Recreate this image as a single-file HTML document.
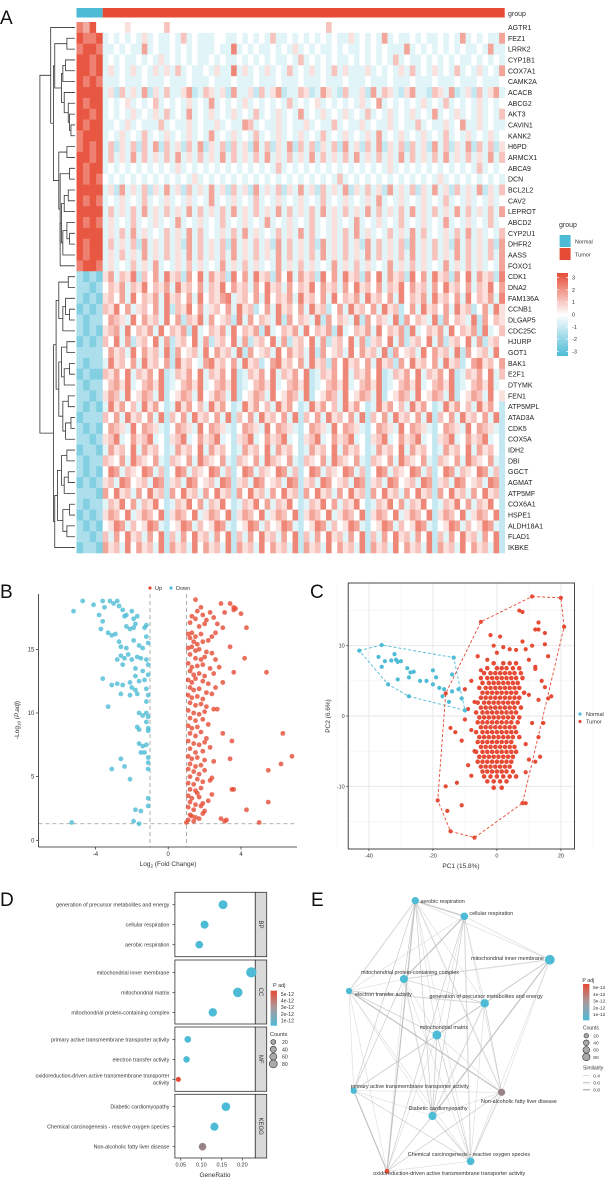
<!DOCTYPE html>
<html><head><meta charset="utf-8"><style>
html,body{margin:0;padding:0;background:#fff;}
svg{display:block;font-family:"Liberation Sans",Arial,sans-serif;}
</style></head><body>
<svg id="fig" width="613" height="1181" viewBox="0 0 613 1181" xmlns="http://www.w3.org/2000/svg">
<rect x="0" y="0" width="613" height="1181" fill="#fff"/>
<defs>
<linearGradient id="hmGrad" x1="0" y1="0" x2="0" y2="1"><stop offset="0" stop-color="#E64B35"/><stop offset="0.5" stop-color="#ffffff"/><stop offset="1" stop-color="#4DBBD5"/></linearGradient>
<linearGradient id="padjGrad" x1="0" y1="0" x2="0" y2="1"><stop offset="0" stop-color="#E64B35"/><stop offset="0.5" stop-color="#a99a9e"/><stop offset="1" stop-color="#4DBBD5"/></linearGradient>
<clipPath id="pcaClip"><rect x="348.2" y="583" width="226.3" height="266"/></clipPath>
</defs>
<g id="root"></g>
</svg>
<script>
// ---------- DATA ----------
const genes = ["AGTR1","FEZ1","LRRK2","CYP1B1","COX7A1","CAMK2A","ACACB","ABCG2","AKT3","CAVIN1","KANK2","H6PD","ARMCX1","ABCA9","DCN","BCL2L2","CAV2","LEPROT","ABCD2","CYP2U1","DHFR2","AASS","FOXO1","CDK1","DNA2","FAM136A","CCNB1","DLGAP5","CDC25C","HJURP","GOT1","BAK1","E2F1","DTYMK","FEN1","ATP5MPL","ATAD3A","CDK5","COX5A","IDH2","DBI","GGCT","AGMAT","ATP5MF","COX6A1","HSPE1","ALDH18A1","FLAD1","IKBKE"];
// heatmap values encoded: digit d -> z ; "normal|tumor"
const heatRows = [
"7684|444454444446444444444444444444444444444464444444444444444444444444444444",
"8778|343434353433436343334433434343633434343434335343437343343433434373434337",
"7887|334343373433434343334338343433434353434334343343434333734343434343343733",
"8878|343433434353434343343433434343433436343434334343434363433434343433434343",
"8878|353435343535363433435338353435343634353436353335343435363435343634353437",
"8787|333433343334333433343334333433343334333433343334333433343334333433343334",
"8888|352635372536335723653527335263572336523753263352736532573326537235263573",
"8788|343453434634343534373434353434343634345343434353473434343534363434353434",
"8878|343435343536343734353435343634353437343534353436343534353437343534353436",
"8788|334353433363433534335343376343353433534336343353433534336343353473353433",
"7888|343534363435343534373435343634353435343634353435373435343534363435343534",
"7878|362536263726352637253626352736253726362536273526372536263527362537263625",
"8878|363537363536373536353736353637353635373635363735363537363536373536353736",
"8788|343434343434353434343434343434363434343434343434343534343434343434363434",
"8787|434343434343434353434343434343434343434343634343434343434343534343434343",
"8888|352735362537352635373526352735362537352635372536352735362537352635372536",
"8787|343534363435343534373435343634353435343634353435373435343534363435343534",
"8888|363536373536353736353637353635373635363735363537363536373536353736353637",
"8787|353436343534373435343634353437343534363435343734353436343534373435343634",
"8888|353637353436353736343536373534363537363435363735343635373634353637353436",
"8788|363536273536352736353627353635273635362735363527363536273536352736353627",
"8788|353635373536353736353637353635373635363735363537363536373536353736353637",
"7887|353436353734353635343735363534373536353437353635343735363534373536353437",
"2121|573658264738562748375628473856274837562847385627483756284738562748375628",
"2212|465736584657385647365847563748563746584756374856473658475637485647365847",
"2121|564738465738564738465783564738465738564738465738564738465738564738465738",
"1212|658473564738265847356473856247385647385624738564738562473856473856247385",
"2122|476538475638472658374562837465382746538274653827465382746538274653827465",
"2121|567384657384657283465738465728346573846572834657384657283465738465728346",
"1212|648372564837256483725648372564837256483725648372564837256483725648372564",
"2222|475638475638274563847563827456384756382745638475638274563847563827456384",
"2122|385647385647285643785647385624785647385627485647385627485647385624785647",
"1211|657483657482365748365748236574836574823657483657482365748365748236574836",
"2122|467583467582346758346758234675834675823467583467582346758346758234675834",
"2212|576384576382457638457638245763845763824576384576382457638457638245763845",
"2121|385746385742385746385742385746385742385746385742385746385742385746385742",
"1222|647385647382647385647382647385647382647385647382647385647382647385647382",
"2121|476538476532476538476532476538476532476538476532476538476532476538476532",
"2212|568347568342568347568342568347568342568347568342568347568342568347568342",
"1221|375648375642375648375642375648375642375648375642375648375642375648375642",
"2122|654738654732654738654732654738654732654738654732654738654732654738654732",
"2121|487365487362487365487362487365487362487365487362487365487362487365487362",
"1212|563874563872563874563872563874563872563874563872563874563872563874563872",
"2221|748563748562748563748562748563748562748563748562748563748562748563748562",
"2122|365847365842365847365842365847365842365847365842365847365842365847365842",
"1212|576483576482576483576482576483576482576483576482576483576482576483576482",
"2121|458736458732458736458732458736458732458736458732458736458732458736458732",
"2212|637485637482637485637482637485637482637485637482637485637482637485637482",
"1221|756384756382756384756382756384756382756384756382756384756382756384756382"
];
// merge heights between adjacent leaves (dendrogram)
const mergeHeights = [18,6,15,7,9,10,8,5,4,3,16,6,12,4,11,5,8,10,6,4,9,11,26,5,12,7,4,9,14,6,10,4,8,12,5,9,3,7,16,6,10,5,8,13,4,9,6,15];

// Volcano: [log2FC, -log10(padj)]
const volcanoDown = [[-5.2,18.0],[-4.7,18.8],[-4.1,18.5],[-3.8,17.7],[-3.6,18.8],[-3.5,18.3],[-3.2,18.8],[-3.0,18.6],[-2.8,18.8],[-2.7,18.4],[-2.5,18.1],[-2.4,17.6],[-2.3,17.7],[-2.0,18.0],[-1.9,17.4],[-1.7,17.6],[-1.8,17.0],[-1.2,16.9],[-1.3,16.7],[-3.6,17.2],[-3.7,16.6],[-3.3,16.3],[-3.1,16.1],[-2.9,16.2],[-2.3,16.8],[-2.1,16.6],[-1.9,16.7],[-2.7,15.6],[-2.6,15.2],[-2.3,15.1],[-1.9,15.7],[-1.6,15.3],[-1.4,15.1],[-1.2,16.0],[-1.1,15.5],[-2.8,14.2],[-2.6,14.5],[-2.4,14.3],[-2.2,14.6],[-2.0,14.2],[-1.7,14.4],[-1.5,14.3],[-1.2,14.2],[-1.1,13.8],[-2.5,13.8],[-1.8,13.5],[-1.4,13.3],[-1.8,12.9],[-1.6,12.5],[-1.3,12.6],[-1.1,13.0],[-3.6,12.7],[-3.1,12.2],[-2.8,12.3],[-2.5,12.2],[-2.1,12.4],[-2.0,12.0],[-1.8,11.8],[-1.2,11.9],[-1.1,11.4],[-2.6,11.5],[-2.1,11.4],[-1.7,11.5],[-1.2,10.9],[-3.3,10.5],[-1.6,10.0],[-1.4,9.8],[-1.2,10.0],[-1.1,9.7],[-1.2,9.3],[-1.1,8.8],[-1.7,8.9],[-1.6,8.7],[-1.1,8.6],[-1.6,7.6],[-1.4,7.4],[-1.2,7.5],[-1.5,6.9],[-1.3,6.9],[-1.1,6.5],[-1.1,6.1],[-2.6,6.4],[-2.4,5.8],[-3.1,5.6],[-1.1,5.6],[-2.1,4.8],[-1.1,3.3],[-1.8,2.4],[-1.5,2.3],[-1.1,2.7],[-5.3,1.4],[-1.9,1.5],[-1.6,1.3]];
const volcanoUp = [[1.5,18.9],[1.8,18.3],[1.6,18.0],[2.3,17.9],[2.5,17.5],[2.9,18.6],[3.1,17.9],[3.4,18.6],[3.6,18.3],[3.6,18.1],[3.7,18.2],[4.0,17.8],[1.3,17.6],[1.5,17.4],[1.9,17.7],[2.1,17.3],[1.2,17.1],[1.7,16.8],[2.0,17.0],[2.7,17.0],[3.0,16.7],[4.3,16.7],[1.1,16.2],[1.3,16.3],[1.5,16.0],[1.8,16.2],[2.4,16.0],[2.6,16.3],[1.2,15.9],[1.4,15.6],[1.6,15.4],[1.9,15.6],[2.2,15.7],[1.1,15.1],[1.3,15.2],[1.5,14.9],[1.7,15.0],[2.1,14.8],[2.4,14.7],[3.4,15.2],[1.2,14.6],[1.5,14.3],[1.8,14.2],[2.0,14.4],[2.6,14.2],[4.2,14.3],[1.1,13.9],[1.3,13.6],[1.6,13.7],[1.9,13.8],[2.3,13.5],[2.8,13.6],[1.2,13.3],[1.4,13.0],[1.7,13.1],[2.0,12.9],[2.5,13.1],[3.6,13.2],[5.4,13.2],[1.1,12.6],[1.3,12.4],[1.5,12.7],[1.9,12.5],[2.2,12.3],[1.2,12.0],[1.4,11.8],[1.7,11.9],[2.1,11.6],[2.6,12.0],[3.0,12.4],[1.1,11.4],[1.3,11.2],[1.6,11.3],[1.9,11.1],[2.4,11.5],[1.2,10.8],[1.5,10.6],[1.8,10.7],[2.1,10.5],[1.1,10.2],[1.4,10.0],[1.7,9.9],[2.0,10.1],[2.5,10.3],[2.7,10.3],[1.2,9.6],[1.5,9.4],[1.9,9.5],[1.1,9.0],[1.3,8.8],[1.6,8.9],[2.2,9.1],[1.2,8.4],[1.5,8.2],[1.8,8.5],[2.1,8.0],[3.0,8.4],[6.3,8.4],[1.1,7.8],[1.4,7.6],[1.7,7.5],[2.0,7.7],[3.5,7.8],[1.2,7.2],[1.5,6.9],[1.9,7.0],[2.3,7.3],[1.1,6.6],[1.3,6.4],[1.6,6.5],[2.0,6.3],[2.5,6.2],[3.4,6.4],[6.8,6.6],[1.2,6.0],[1.5,5.8],[1.8,5.9],[1.1,5.6],[1.4,5.4],[1.7,5.2],[2.0,5.5],[5.5,5.5],[6.2,6.0],[1.2,5.0],[1.6,4.8],[2.4,4.9],[1.1,4.5],[1.4,4.4],[1.9,4.6],[2.3,4.7],[1.2,4.0],[1.5,3.9],[1.8,4.1],[3.6,4.0],[3.5,4.0],[1.1,3.5],[1.3,3.3],[1.7,3.4],[2.4,3.6],[1.2,3.0],[1.5,2.8],[1.9,2.9],[2.2,3.1],[5.5,3.0],[1.1,2.6],[1.4,2.4],[1.8,2.7],[2.0,2.3],[4.3,2.4],[1.2,2.0],[1.5,1.8],[1.9,2.1],[1.1,1.6],[1.4,1.5],[1.7,1.7],[2.9,1.7],[3.2,1.6],[3.1,1.5],[1.0,1.4],[5.0,1.4],[1.3,1.9],[1.6,3.7]];
const volcanoXTicks = [-4,0,4];
const volcanoYTicks = [0,5,10,15];

// PCA
const pcaNormal = [[-43,9.3],[-36,10.1],[-37,8.4],[-35,7.8],[-33,7.9],[-32,8.8],[-31,7.7],[-30,7.8],[-31.5,8],[-36,7],[-34,4.5],[-31,5.2],[-28,6.8],[-27,6.2],[-26,6.3],[-27.5,5.5],[-24,5],[-22,5],[-20,6.5],[-19,5.5],[-18,4],[-16.5,3.8],[-17,2.8],[-13.5,8.3],[-14,5.9],[-14,3.5],[-12,3.8],[-11,2.5],[-10,0.8],[-27.5,2.8],[-20,4.5],[-15,2]];
const pcaTumorCoreY = [7.5,6.8,6.1,5.4,4.7,4.0,3.3,2.6,1.9,1.2,0.5,-0.2,-0.9,-1.6,-2.3,-3.0,-3.7,-4.4,-5.1,-5.8,-6.5,-7.2,-7.9,-8.6,-9.3,-10.2];
const pcaTumorCoreX = [[-1,2,4,6],[-3,0,1.5,3,5,7],[-4,-2,-0.5,1,2.5,4,5.5,7.5],[-5,-3,-1.5,0,1.5,3,4.5,6,8],[-4.5,-2.5,-1,0.5,2,3.5,5,6.5],[-5.5,-3.5,-2,-0.5,1,2.5,4,5.5,7],[-4.5,-3,-1.5,0,1.5,3,4.5,6,8.5],[-5,-3.5,-2,-0.5,1,2.5,4,5.5,7],[-6,-4,-2.5,-1,0.5,2,3.5,5,6.5],[-5,-3.5,-2,-0.5,1,2.5,4,5.5,7.5],[-6.5,-4.5,-3,-1.5,0,1.5,3,4.5,6],[-5.5,-4,-2.5,-1,0.5,2,3.5,5,7],[-6,-4.5,-3,-1.5,0,1.5,3,4.5,6.5],[-5,-3.5,-2,-0.5,1,2.5,4,5.5],[-6.5,-4.5,-3,-1.5,0,1.5,3,4.5,6],[-5.5,-4,-2.5,-1,0.5,2,3.5,5,7],[-6,-4.5,-3,-1.5,0,1.5,3,4.5],[-5,-3.5,-2,-0.5,1,2.5,4,5.5],[-6.5,-4.5,-3,-1.5,0,1.5,3,4.5,6],[-5.5,-4,-2.5,-1,0.5,2,3.5,5],[-6,-4.5,-3,-1.5,0,1.5,3,4.5],[-5,-3.5,-2,-0.5,1,2.5,4],[-4.5,-3,-1.5,0,1.5,3,5],[-4,-2,0,2,4,6],[-3,-1,1,3],[-1,1.5]];
const pcaTumorExtra = [[-16,3.2],[-14.5,-1.7],[-13,-2.3],[-11,-3.5],[-10,3.8],[-10,-0.5],[-12.5,-9.5],[-15.5,-13.5],[-16,-10],[-18.5,-12],[-14.5,-16.4],[-7,-17.3],[-11,-12.7],[-5,13.4],[-3,8],[-5,6.5],[-8,-8.5],[-9,-7],[11,17],[20,16.8],[21,12.7],[8,-12.4],[9,-12.4],[7,15],[8,14.8],[12,12.3],[13,12.3],[13,13.3],[15,11.8],[16,8.5],[17,2.8],[16,2.5],[12,6.7],[14,5],[15,4.1],[13,2.3],[11,-1],[13,-3],[12,-6.5],[13.5,-5.8],[10,-6.2],[14.5,-1],[9,9.5],[10,8],[8,10.6],[11,10],[15,10.2],[12,7],[10,3],[9,-4],[9,-8],[-8,5],[-7,2],[-9,1],[-8,-2],[-7,-5],[-2,11.5],[1,11.3],[2,9.8],[4,9.5],[6,9.4],[0,9],[-1,10],[-6,8.5]];
const pcaNormalHull = [[-43,9.3],[-36,10.1],[-13.5,8.3],[-10,0.8],[-27.5,2.8],[-34,4.5]];
const pcaTumorHull = [[11,17],[20,16.8],[21,12.7],[8,-12.4],[-7,-17.3],[-14.5,-16.4],[-18.5,-12],[-16,3.2],[-5,13.4]];
const pcaXTicks = [-40,-20,0,20];
const pcaYTicks = [-10,0,10];

// Enrichment (D/E)
const termNames = ["generation of precursor metabolites and energy","cellular respiration","aerobic respiration","mitochondrial inner membrane","mitochondrial matrix","mitochondrial protein-containing complex","primary active transmembrane transporter activity","electron transfer activity","oxidoreduction-driven active transmembrane transporter activity","Diabetic cardiomyopathy","Chemical carcinogenesis - reactive oxygen species","Non-alcoholic fatty liver disease"];
const termCategory = ["BP","BP","BP","CC","CC","CC","MF","MF","MF","KEGG","KEGG","KEGG"];
const geneRatio = [0.153,0.108,0.095,0.222,0.189,0.128,0.067,0.064,0.044,0.160,0.132,0.103];
const termCounts = [60,45,40,88,72,52,26,25,10,55,46,38];
const termPadj = [1e-13,1e-13,1e-13,1e-13,1e-13,1e-13,1e-13,1e-13,5.5e-12,1e-13,1e-13,3.2e-12];
const ratioTicks = [0.05,0.10,0.15,0.20];
const padjTicks = ["5e-12","4e-12","3e-12","2e-12","1e-12"];
const countTicks = [20,40,60,80];
// network
const netEdges = [[2,1],[2,0],[2,3],[2,5],[2,7],[2,4],[2,9],[2,10],[2,11],[2,6],[1,0],[1,3],[1,5],[1,4],[1,7],[1,9],[1,10],[1,11],[1,8],[3,0],[3,5],[3,4],[3,10],[3,11],[3,9],[5,7],[5,4],[5,0],[5,9],[5,10],[5,6],[5,8],[7,0],[7,4],[7,6],[7,8],[7,11],[7,9],[7,10],[0,4],[0,9],[0,10],[0,11],[0,6],[4,9],[4,10],[4,11],[4,8],[6,8],[6,11],[6,9],[6,10],[9,10],[9,11],[9,8],[10,8],[10,11],[11,8],[6,4],[3,6],[2,8]];
const similarityTicks = [0.4,0.6,0.8];

// ---------- HELPERS ----------
const NS = "http://www.w3.org/2000/svg";
const root = document.getElementById("root");
function mk(tag, attrs, parent) {
  const e = document.createElementNS(NS, tag);
  for (const k in attrs) e.setAttribute(k, attrs[k]);
  (parent || root).appendChild(e);
  return e;
}
function txt(str, x, y, size, anchor, parent, extra) {
  const t = mk("text", Object.assign({x: x, y: y, "font-size": size, "text-anchor": anchor || "start", fill: "#333"}, extra || {}), parent);
  t.textContent = str;
  return t;
}
function group(name) {
  const g = mk("g", {});
  
  
  return g;
}
function mixColor(a, b, t) {
  const pa = [parseInt(a.slice(1,3),16),parseInt(a.slice(3,5),16),parseInt(a.slice(5,7),16)];
  const pb = [parseInt(b.slice(1,3),16),parseInt(b.slice(3,5),16),parseInt(b.slice(5,7),16)];
  return "rgb(" + pa.map((v,i)=>Math.round(v+(pb[i]-v)*t)).join(",") + ")";
}
function zColor(z) {
  const t = Math.max(-1, Math.min(1, z/3));
  return t >= 0 ? mixColor("#ffffff", "#E64B35", t) : mixColor("#ffffff", "#4DBBD5", -t);
}

// ---------- PANEL LETTERS ----------
const letters = [["A",0,24],["B",0,598],["C",310,598],["D",0,906],["E",311,906]];
letters.forEach(l => {
  const t = txt(l[0], l[1], l[2], 19, "start", root, {fill: "#111"});
  
  
});

// ---------- A: HEATMAP ----------
const gA = group("heatmap-panel");
const hmX0 = 76.5, hmXN = 102.7, hmX1 = 504.7, hmY0 = 22, hmY1 = 553;
const rowH = (hmY1 - hmY0) / genes.length;
const gb1 = mk("rect", {x: hmX0, y: 8, width: hmXN-hmX0, height: 9.5, fill: "#4DBBD5"}, gA);


const gb2 = mk("rect", {x: hmXN, y: 8, width: hmX1-hmXN, height: 9.5, fill: "#E64B35"}, gA);


const gbl = txt("group", 508, 16, 7, "start", gA);


heatRows.forEach((row, i) => {
  const parts = row.split("|");
  const y = hmY0 + i*rowH;
  const nW = (hmXN - hmX0) / parts[0].length;
  for (let j = 0; j < parts[0].length; j++) {
    const r = mk("rect", {x: hmX0 + j*nW, y: y, width: nW+0.3, height: rowH+0.3, fill: zColor((+parts[0][j]-4)*0.7)}, gA);
    
    
  }
  const tW = (hmX1 - hmXN) / parts[1].length;
  for (let j = 0; j < parts[1].length; j++) {
    const r = mk("rect", {x: hmXN + j*tW, y: y, width: tW+0.3, height: rowH+0.3, fill: zColor((+parts[1][j]-4)*0.5)}, gA);
    
    
  }
  const lab = txt(genes[i], 508, y + rowH/2 + 2.5, 7, "start", gA, {fill: "#222"});
  
  
});
const gDen = group("row-dendrogram");
const denLeafX = 75, denScale = 1.35;
function buildDen(lo, hi) {
  if (lo === hi) return {x: denLeafX, y: hmY0 + (lo+0.5)*rowH};
  let m = lo, mh = -1;
  for (let k = lo; k < hi; k++) if (mergeHeights[k] > mh) { mh = mergeHeights[k]; m = k; }
  const L = buildDen(lo, m), R = buildDen(m+1, hi);
  const x = denLeafX - mh*denScale;
  const d = "M" + L.x + "," + L.y + "H" + x + "V" + R.y + "H" + R.x;
  const p = mk("path", {d: d, fill: "none", stroke: "#333", "stroke-width": 0.8}, gDen);
  
  
  return {x: x, y: (L.y + R.y)/2};
}
buildDen(0, genes.length-1);
const gLeg = group("heatmap-legend");
txt("group", 559, 227, 7, "start", gLeg);
const ln = mk("rect", {x: 559.6, y: 235, width: 11, height: 12, fill: "#4DBBD5"}, gLeg);


txt("Normal", 575, 243.5, 5.5, "start", gLeg);
const lt = mk("rect", {x: 559.6, y: 248, width: 11, height: 12, fill: "#E64B35"}, gLeg);


txt("Tumor", 575, 256.5, 5.5, "start", gLeg);
const cb = mk("rect", {x: 557, y: 273, width: 11, height: 83, fill: "url(#hmGrad)"}, gLeg);


[3,2,1,0,-1,-2,-3].forEach(v => {
  const y = 314.5 - v*12.3;
  mk("line", {x1: 557, x2: 559, y1: y, y2: y, stroke: "#fff", "stroke-width": 0.7}, gLeg);
  mk("line", {x1: 566, x2: 568, y1: y, y2: y, stroke: "#fff", "stroke-width": 0.7}, gLeg);
  txt(String(v), 572, y + 2, 5.5, "start", gLeg);
});

// ---------- B: VOLCANO ----------
const gB = group("volcano-panel");
const vx = v => 168.2 + 18.2*v;
const vy = v => 840.3 - 12.73*v;
const vAxX = 38.4, vAxY = 847;
mk("line", {x1: vx(-1), x2: vx(-1), y1: 594, y2: vAxY, stroke: "#999", "stroke-width": 0.8, "stroke-dasharray": "4,3"}, gB);
mk("line", {x1: vx(1), x2: vx(1), y1: 594, y2: vAxY, stroke: "#999", "stroke-width": 0.8, "stroke-dasharray": "4,3"}, gB);
mk("line", {x1: vAxX, x2: 297, y1: vy(1.3), y2: vy(1.3), stroke: "#999", "stroke-width": 0.8, "stroke-dasharray": "4,3"}, gB);
volcanoDown.forEach(p => {
  const c = mk("circle", {cx: vx(p[0]), cy: vy(p[1]), r: 2.4, fill: "#4DBBD5", "fill-opacity": 0.8}, gB);
  
  
});
volcanoUp.forEach(p => {
  const c = mk("circle", {cx: vx(p[0]), cy: vy(p[1]), r: 2.4, fill: "#E64B35", "fill-opacity": 0.8}, gB);
  
  
});
const vya = mk("line", {x1: vAxX, x2: vAxX, y1: 594, y2: vAxY, stroke: "#222", "stroke-width": 0.8}, gB);


const vxa = mk("line", {x1: vAxX, x2: 297, y1: vAxY, y2: vAxY, stroke: "#222", "stroke-width": 0.8}, gB);


volcanoXTicks.forEach(t => {
  mk("line", {x1: vx(t), x2: vx(t), y1: vAxY, y2: vAxY+2.5, stroke: "#222", "stroke-width": 0.7}, gB);
  txt(String(t), vx(t), vAxY + 9, 6, "middle", gB);
});
volcanoYTicks.forEach(t => {
  mk("line", {x1: vAxX-2.5, x2: vAxX, y1: vy(t), y2: vy(t), stroke: "#222", "stroke-width": 0.7}, gB);
  txt(String(t), vAxX-4, vy(t)+2, 6, "end", gB);
});
const vxl = txt("", 168, 866, 6.5, "middle", gB);
vxl.innerHTML = 'Log<tspan font-size="4.5" dy="1.5">2</tspan><tspan dy="-1.5"> (Fold Change)</tspan>';


const vyl = txt("", 0, 0, 6.5, "middle", gB, {transform: "translate(19,720) rotate(-90)"});
vyl.innerHTML = '-Log<tspan font-size="4.5" dy="1.5">10</tspan><tspan dy="-1.5"> (</tspan><tspan font-style="italic">P.adj</tspan>)';


const vl1 = mk("circle", {cx: 150, cy: 588, r: 1.6, fill: "#E64B35"}, gB);


txt("Up", 155, 590, 5.5, "start", gB);
const vl2 = mk("circle", {cx: 171, cy: 588, r: 1.6, fill: "#4DBBD5"}, gB);


txt("Down", 176, 590, 5.5, "start", gB);

// ---------- C: PCA ----------
const gC = group("pca-panel");
const px = v => 496.9 + 3.2*v;
const py = v => 716 - 7.03*v;
const pL = 348.2, pR = 574.5, pT = 583, pB = 849;
[-50,-30,-10,10,30].forEach(v => mk("line", {x1: px(v), x2: px(v), y1: pT, y2: pB, stroke: "#f2f2f2", "stroke-width": 0.6}, gC));
[-15,-5,5,15].forEach(v => mk("line", {x1: pL, x2: pR, y1: py(v), y2: py(v), stroke: "#f2f2f2", "stroke-width": 0.6}, gC));
pcaXTicks.forEach(v => mk("line", {x1: px(v), x2: px(v), y1: pT, y2: pB, stroke: "#e6e6e6", "stroke-width": 0.9}, gC));
pcaYTicks.forEach(v => mk("line", {x1: pL, x2: pR, y1: py(v), y2: py(v), stroke: "#e6e6e6", "stroke-width": 0.9}, gC));
const gCp = mk("g", {"clip-path": "url(#pcaClip)"}, gC);
const hullPts = h => h.map(p => px(p[0]) + "," + py(p[1])).join(" ");
const hn = mk("polygon", {points: hullPts(pcaNormalHull), fill: "none", stroke: "#4DBBD5", "stroke-width": 0.9, "stroke-dasharray": "3,2"}, gCp);


const ht = mk("polygon", {points: hullPts(pcaTumorHull), fill: "none", stroke: "#E64B35", "stroke-width": 0.9, "stroke-dasharray": "3,2"}, gCp);


pcaTumorCoreY.forEach((yv, i) => {
  pcaTumorCoreX[i].forEach(xv => {
    const c = mk("circle", {cx: px(xv), cy: py(yv), r: 2.3, fill: "#E64B35"}, gCp);
    
    
  });
});
pcaTumorExtra.forEach(p => {
  const c = mk("circle", {cx: px(p[0]), cy: py(p[1]), r: 2.1, fill: "#E64B35"}, gCp);
  
  
});
pcaNormal.forEach(p => {
  const c = mk("circle", {cx: px(p[0]), cy: py(p[1]), r: 2.1, fill: "#4DBBD5"}, gCp);
  
  
});
const pbx = mk("rect", {x: pL, y: pT, width: pR-pL, height: pB-pT, fill: "none", stroke: "#333", "stroke-width": 0.9}, gC);


pcaXTicks.forEach(v => {
  mk("line", {x1: px(v), x2: px(v), y1: pB, y2: pB+2, stroke: "#333", "stroke-width": 0.7}, gC);
  txt(String(v), px(v), pB+8.5, 5.5, "middle", gC);
});
pcaYTicks.forEach(v => {
  mk("line", {x1: pL-2, x2: pL, y1: py(v), y2: py(v), stroke: "#333", "stroke-width": 0.7}, gC);
  txt(String(v), pL-3.5, py(v)+2, 5.5, "end", gC);
});
const pxl = txt("PC1 (15.8%)", 461, 868, 6.5, "middle", gC);


const pyl = txt("PC2 (6.6%)", 0, 0, 6.5, "middle", gC, {transform: "translate(330,716) rotate(-90)"});


const pl1 = mk("circle", {cx: 580, cy: 714, r: 1.6, fill: "#4DBBD5"}, gC);


txt("Normal", 586, 716, 5.5, "start", gC);
const pl2 = mk("circle", {cx: 580, cy: 721.5, r: 1.6, fill: "#E64B35"}, gC);


txt("Tumor", 586, 723.5, 5.5, "start", gC);

// ---------- D: DOT PLOT ----------
const gD = group("enrichment-dotplot");
const dx = v => 180.8 + (v - 0.05)*410;
const panels = [["BP",892.3,956.7],["CC",960,1024],["MF",1027,1091.3],["KEGG",1094.3,1158]];
const rowOffsets = [12.4, 32.4, 52.4];
const countR = c => 1.2 + Math.sqrt(c)*0.42;
const padjColor = p => mixColor("#4DBBD5", "#E64B35", Math.min(1, Math.max(0, (p - 1e-12)/(5.5e-12 - 1e-12))));
panels.forEach((pn, pi) => {
  const fr = mk("rect", {x: 174.9, y: pn[1], width: 80.4, height: pn[2]-pn[1], fill: "#fff", stroke: "#333", "stroke-width": 0.8}, gD);
  
  
  const st = mk("rect", {x: 255.3, y: pn[1], width: 11.4, height: pn[2]-pn[1], fill: "#d9d9d9", stroke: "#333", "stroke-width": 0.8}, gD);
  
  
  txt(pn[0], 0, 0, 6, "middle", gD, {transform: "translate(259,"+((pn[1]+pn[2])/2)+") rotate(90)"});
});
termNames.forEach((nm, i) => {
  const pi = Math.floor(i/3);
  const y = panels[pi][1] + rowOffsets[i%3];
  mk("line", {x1: 172.5, x2: 174.9, y1: y, y2: y, stroke: "#333", "stroke-width": 0.7}, gD);
  if (i === 8) {
    txt("oxidoreduction-driven active transmembrane transporter", 169.4, y-2, 5.4, "end", gD);
    txt("activity", 169.4, y+5, 5.4, "end", gD);
  } else {
    txt(nm, 169.4, y+2, 5.4, "end", gD);
  }
  const c = mk("circle", {cx: dx(geneRatio[i]), cy: y, r: countR(termCounts[i]), fill: padjColor(termPadj[i])}, gD);
  
  
});
ratioTicks.forEach(v => {
  mk("line", {x1: dx(v), x2: dx(v), y1: 1158, y2: 1160.5, stroke: "#333", "stroke-width": 0.7}, gD);
  txt(v.toFixed(2), dx(v), 1166.5, 5.5, "middle", gD);
});
const dxl = txt("GeneRatio", 215, 1177, 6.5, "middle", gD);


txt("P adj", 273, 987, 5.5, "start", gD);
const dcb = mk("rect", {x: 270.6, y: 990.7, width: 6.4, height: 35, fill: "url(#padjGrad)"}, gD);


padjTicks.forEach((t, i) => txt(t, 280.8, 996 + i*6.6, 5.2, "start", gD));
txt("Counts", 270, 1036, 5.5, "start", gD);
countTicks.forEach((c, i) => {
  const lc = mk("circle", {cx: 273.3, cy: 1042 + i*7.3, r: countR(c)*0.8, fill: "#aaa", stroke: "#333", "stroke-width": 0.6}, gD);
  
  
  txt(String(c), 282, 1044 + i*7.3, 5.2, "start", gD);
});

// ---------- E: NETWORK ----------
const gE = group("enrichment-network");
const nodeX = [484.7,464.3,415.3,549.8,436.9,403.9,353.7,349,387,432.5,470.6,501.6];
const nodeY = [1003.3,916.3,900.7,959.7,1035,979,1090.7,991,1171.3,1116,1161.3,1092.3];
netEdges.forEach((e, i) => {
  const l = mk("line", {x1: nodeX[e[0]], y1: nodeY[e[0]], x2: nodeX[e[1]], y2: nodeY[e[1]], stroke: "#bdbdbd", "stroke-opacity": (i%3===0?0.9:0.55), "stroke-width": (i%4===0?1.2:0.6)}, gE);
  
  
});
const labelPos = [[429.4,998,"start"],[469.4,915,"start"],[420.4,903,"start"],[543.9,960,"end"],[443.9,1029,"middle"],[410,974,"middle"],[350.6,1088,"start"],[355,996,"start"],[373.3,1175,"start"],[438,1110,"middle"],[407.8,1156,"start"],[481,1103,"start"]];
termNames.forEach((nm, i) => {
  const c = mk("circle", {cx: nodeX[i], cy: nodeY[i], r: countR(termCounts[i])*0.95, fill: padjColor(termPadj[i])}, gE);
  
  
  const t = txt(nm, labelPos[i][0], labelPos[i][1], 5.4, labelPos[i][2], gE);
  
  
});
txt("P adj", 582.4, 982, 5.2, "start", gE);
const ecb = mk("rect", {x: 583, y: 984, width: 6.4, height: 36.3, fill: "url(#padjGrad)"}, gE);


padjTicks.forEach((t, i) => txt(t, 593, 989 + i*6.8, 4.8, "start", gE));
txt("Counts", 583, 1029.5, 5, "start", gE);
countTicks.forEach((c, i) => {
  const lc = mk("circle", {cx: 586.3, cy: 1035.7 + i*7.1, r: countR(c)*0.75, fill: "#aaa", stroke: "#333", "stroke-width": 0.6}, gE);
  
  
  txt(String(c), 593.3, 1037.5 + i*7.1, 4.8, "start", gE);
});
txt("Similarity", 583, 1069.5, 5, "start", gE);
similarityTicks.forEach((s, i) => {
  const y = 1075.7 + i*7;
  const sl = mk("line", {x1: 583, x2: 590, y1: y, y2: y, stroke: "#bbb", "stroke-width": 0.5 + i*0.5}, gE);
  
  
  txt(String(s), 593.3, y + 1.8, 4.8, "start", gE);
});
</script>
</body></html>
